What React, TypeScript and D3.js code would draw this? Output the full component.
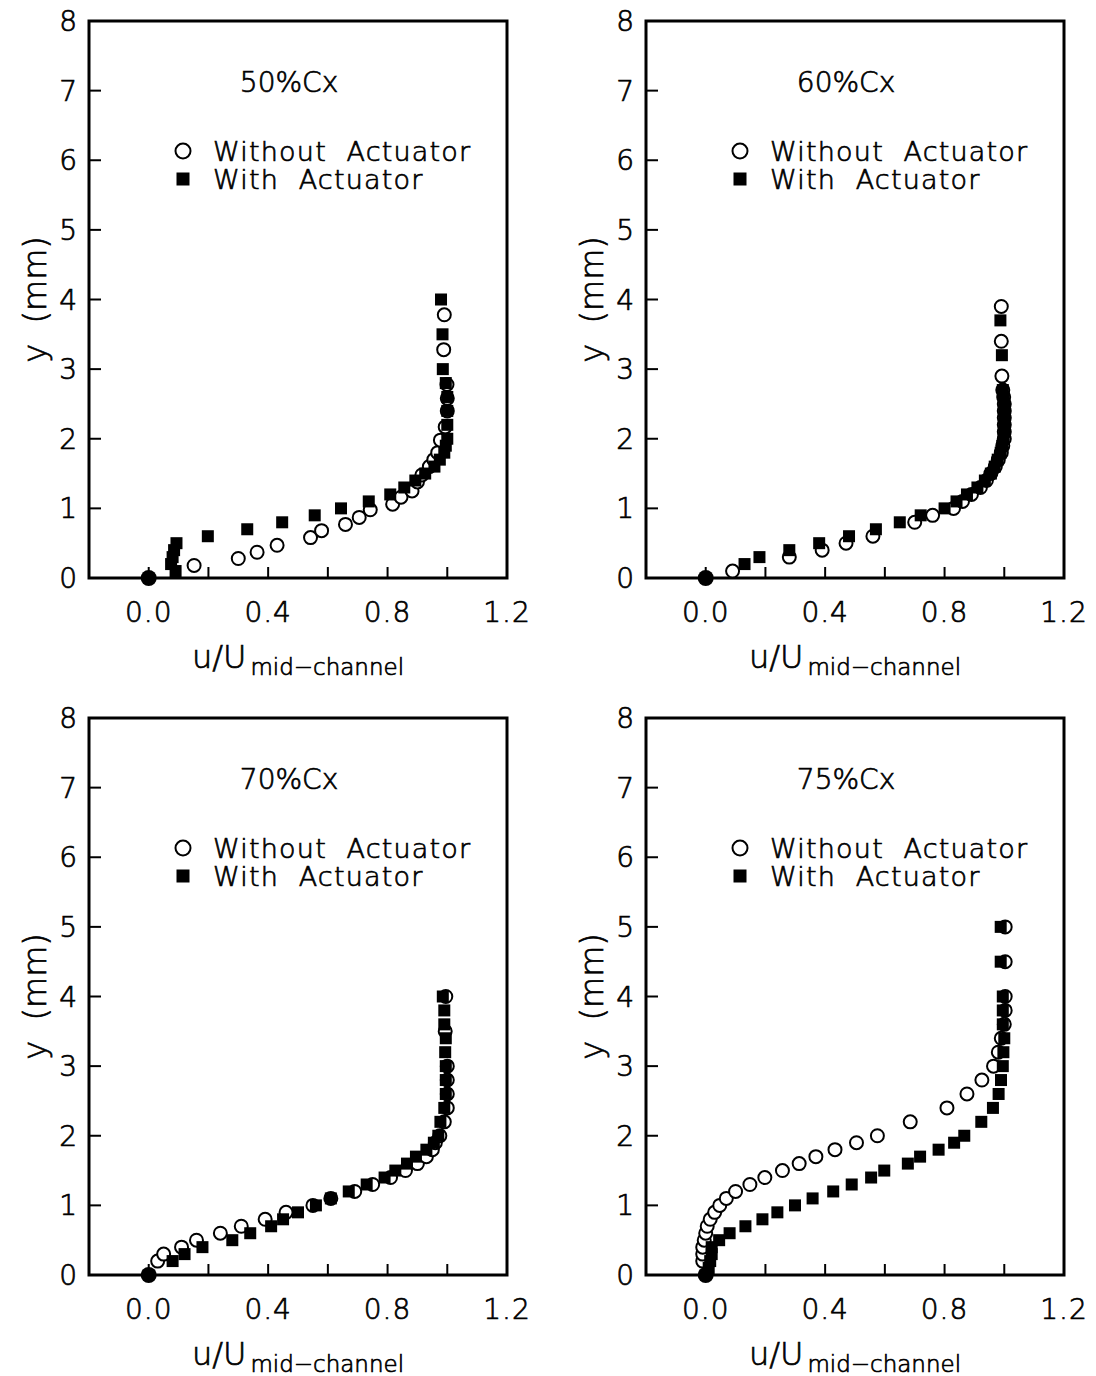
import React from "react";
import * as d3 from "d3";

// ---------- data ----------
const panelTitles = ["50%Cx", "60%Cx", "70%Cx", "75%Cx"];
const legendLabels = ["Without  Actuator", "With  Actuator"];
const xTickValues = [0, 0.2, 0.4, 0.6, 0.8, 1.0, 1.2];
const xTickLabels = ["0.0", "", "0.4", "", "0.8", "", "1.2"];
const yTickValues = [0, 1, 2, 3, 4, 5, 6, 7, 8];
const wallPoint: [number, number][] = [[0, 0]];

// [u/U, y(mm)]
const p50Without: [number, number][] = [
  [0.152, 0.18], [0.30, 0.28], [0.363, 0.37], [0.43, 0.47], [0.542, 0.58], [0.579, 0.68],
  [0.659, 0.77], [0.705, 0.87], [0.742, 0.98], [0.817, 1.06], [0.845, 1.16], [0.882, 1.25],
  [0.90, 1.38], [0.915, 1.48], [0.94, 1.6], [0.955, 1.7], [0.968, 1.8], [0.977, 1.98],
  [0.993, 2.17], [1.0, 2.4], [1.0, 2.58], [0.999, 2.78], [0.988, 3.28], [0.99, 3.78],
];
const p50With: [number, number][] = [
  [0.09, 0.1], [0.075, 0.2], [0.08, 0.3], [0.085, 0.4], [0.093, 0.5], [0.198, 0.6],
  [0.33, 0.7], [0.447, 0.8], [0.556, 0.9], [0.644, 1.0], [0.737, 1.1], [0.809, 1.2],
  [0.856, 1.3], [0.893, 1.4], [0.926, 1.5], [0.957, 1.6], [0.975, 1.7], [0.99, 1.8],
  [0.995, 1.9], [1.0, 2.0], [1.0, 2.2], [1.0, 2.4], [1.0, 2.6], [0.995, 2.8],
  [0.985, 3.0], [0.984, 3.5], [0.979, 4.0],
];
const p60Without: [number, number][] = [
  [0.09, 0.1], [0.28, 0.3], [0.39, 0.4], [0.47, 0.5], [0.56, 0.6], [0.70, 0.8], [0.76, 0.9],
  [0.83, 1.0], [0.86, 1.1], [0.89, 1.2], [0.92, 1.3], [0.94, 1.4], [0.955, 1.5], [0.97, 1.6],
  [0.98, 1.7], [0.99, 1.8], [0.995, 1.9], [1.0, 2.0], [1.0, 2.1], [1.0, 2.2], [1.0, 2.3],
  [1.0, 2.4], [1.0, 2.5], [0.998, 2.6], [0.995, 2.7], [0.992, 2.9], [0.99, 3.4], [0.99, 3.9],
];
const p60With: [number, number][] = [
  [0.13, 0.2], [0.18, 0.3], [0.28, 0.4], [0.38, 0.5], [0.48, 0.6], [0.57, 0.7], [0.65, 0.8],
  [0.72, 0.9], [0.80, 1.0], [0.84, 1.1], [0.875, 1.2], [0.91, 1.3], [0.935, 1.4], [0.955, 1.5],
  [0.968, 1.6], [0.978, 1.7], [0.988, 1.8], [0.993, 1.9], [0.998, 2.0], [1.0, 2.1], [1.0, 2.2],
  [1.0, 2.3], [1.0, 2.4], [1.0, 2.5], [0.998, 2.6], [0.995, 2.7], [0.992, 3.2], [0.987, 3.7],
];
const p70Without: [number, number][] = [
  [0.03, 0.2], [0.05, 0.3], [0.11, 0.4], [0.16, 0.5], [0.24, 0.6], [0.31, 0.7], [0.39, 0.8],
  [0.46, 0.9], [0.55, 1.0], [0.61, 1.1], [0.69, 1.2], [0.75, 1.3], [0.81, 1.4], [0.86, 1.5],
  [0.90, 1.6], [0.93, 1.7], [0.95, 1.8], [0.96, 1.9], [0.975, 2.0], [0.99, 2.2], [1.0, 2.4],
  [1.0, 2.6], [1.0, 2.8], [1.0, 3.0], [0.993, 3.5], [0.995, 4.0],
];
const p70With: [number, number][] = [
  [0.08, 0.2], [0.12, 0.3], [0.18, 0.4], [0.28, 0.5], [0.34, 0.6], [0.41, 0.7], [0.45, 0.8],
  [0.50, 0.9], [0.56, 1.0], [0.61, 1.1], [0.67, 1.2], [0.73, 1.3], [0.79, 1.4], [0.826, 1.5],
  [0.865, 1.6], [0.895, 1.7], [0.93, 1.8], [0.955, 1.9], [0.97, 2.0], [0.977, 2.2], [0.99, 2.4],
  [0.995, 2.6], [0.995, 2.8], [0.995, 3.0], [0.993, 3.2], [0.995, 3.4], [0.99, 3.6],
  [0.99, 3.8], [0.985, 4.0],
];
const p75Without: [number, number][] = [
  [-0.01, 0.2], [-0.01, 0.3], [-0.01, 0.4], [-0.005, 0.5], [0.0, 0.6], [0.005, 0.7],
  [0.015, 0.8], [0.03, 0.9], [0.047, 1.0], [0.069, 1.1], [0.1, 1.2], [0.148, 1.3],
  [0.198, 1.4], [0.257, 1.5], [0.313, 1.6], [0.369, 1.7], [0.433, 1.8], [0.505, 1.9],
  [0.575, 2.0], [0.685, 2.2], [0.808, 2.4], [0.875, 2.6], [0.925, 2.8], [0.964, 3.0],
  [0.98, 3.2], [0.99, 3.4], [1.0, 3.6], [1.003, 3.8], [1.003, 4.0], [1.003, 4.5], [1.003, 5.0],
];
const p75With: [number, number][] = [
  [0.01, 0.1], [0.015, 0.2], [0.02, 0.3], [0.02, 0.4], [0.045, 0.5], [0.08, 0.6], [0.133, 0.7],
  [0.19, 0.8], [0.24, 0.9], [0.299, 1.0], [0.358, 1.1], [0.427, 1.2], [0.489, 1.3],
  [0.554, 1.4], [0.598, 1.5], [0.677, 1.6], [0.718, 1.7], [0.78, 1.8], [0.832, 1.9],
  [0.866, 2.0], [0.923, 2.2], [0.962, 2.4], [0.981, 2.6], [0.989, 2.8], [0.995, 3.0],
  [0.997, 3.2], [1.0, 3.4], [0.995, 3.6], [0.995, 3.8], [0.995, 4.0], [0.988, 4.5], [0.988, 5.0],
];

const panelsWithout = [p50Without, p60Without, p70Without, p75Without];
const panelsWith = [p50With, p60With, p70With, p75With];

// ---------- layout ----------
const W = 1096;
const H = 1376;
const panelLeft = [89, 646, 89, 646];
const panelTop = [21, 21, 718, 718];
const PW = 418;
const PH = 557;
const FONT = "'DejaVu Sans', 'Liberation Sans', sans-serif";
const textStyle = {
  fontFamily: FONT,
  fontWeight: 300,
  stroke: "#000",
  strokeWidth: 0.7,
  fill: "#000",
} as const;

function Panel({ idx }: { idx: number }) {
  const left = panelLeft[idx];
  const top = panelTop[idx];
  const x = d3.scaleLinear().domain([-0.2, 1.2]).range([left, left + PW]);
  const y = d3.scaleLinear().domain([0, 8]).range([top + PH, top]);
  const R = 6.5;
  const S = 12;
  const legX = left + 94;
  const legY1 = top + 130;
  const legY2 = top + 158;
  return (
    <g>
      {/* ticks */}
      {xTickValues.map((v, i) => (
        <line key={"xt" + i} x1={x(v)} x2={x(v)} y1={y(0)} y2={y(0) - 11} stroke="#000" strokeWidth={2} />
      ))}
      {yTickValues.map((v, i) => (
        <line key={"yt" + i} x1={x(-0.2)} x2={x(-0.2) + 12} y1={y(v)} y2={y(v)} stroke="#000" strokeWidth={2} />
      ))}
      {/* frame */}
      <rect x={left} y={top} width={PW} height={PH} fill="none" stroke="#000" strokeWidth={3} />
      {/* tick labels */}
      {xTickValues.map((v, i) =>
        xTickLabels[i] ? (
          <text key={"xl" + i} x={x(v)} y={y(0) + 44} textAnchor="middle" fontSize={28} {...textStyle} letterSpacing={1}>
            {xTickLabels[i]}
          </text>
        ) : null
      )}
      {yTickValues.map((v, i) => (
        <text key={"yl" + i} x={left - 12} y={y(v)} dy="0.36em" textAnchor="end" fontSize={28} {...textStyle}>
          {String(v)}
        </text>
      ))}
      {/* axis titles */}
      <text x={left + PW / 2} y={top + PH + 90} textAnchor="middle" fontSize={32} {...textStyle}>
        <tspan>u/U</tspan>
        <tspan fontSize={23} dy={7} dx={4}>mid−channel</tspan>
      </text>
      <text
        transform={`translate(${left - 43},${top + PH / 2}) rotate(-90)`}
        textAnchor="middle"
        fontSize={32}
        {...textStyle}
        style={{ whiteSpace: "pre" }}
      >
        {"y  (mm)"}
      </text>
      {/* title */}
      <text x={x(0.47)} y={top + 71} textAnchor="middle" fontSize={28} {...textStyle}>
        {panelTitles[idx]}
      </text>
      {/* legend */}
      <circle cx={legX} cy={legY1} r={7.5} fill="#fff" stroke="#000" strokeWidth={2} />
      <rect x={legX - 6.5} y={legY2 - 6.5} width={13} height={13} fill="#000" />
      <text x={legX + 30} y={legY1} dy="0.36em" fontSize={27} letterSpacing={1.2} {...textStyle} style={{ whiteSpace: "pre" }}>
        {legendLabels[0]}
      </text>
      <text x={legX + 30} y={legY2} dy="0.36em" fontSize={27} letterSpacing={1.2} {...textStyle} style={{ whiteSpace: "pre" }}>
        {legendLabels[1]}
      </text>
      {/* data */}
      {panelsWithout[idx].map((d, i) => (
        <circle key={"c" + i} cx={x(d[0])} cy={y(d[1])} r={R} fill="#fff" stroke="#000" strokeWidth={2} />
      ))}
      {panelsWith[idx].map((d, i) => (
        <rect key={"s" + i} x={x(d[0]) - S / 2} y={y(d[1]) - S / 2} width={S} height={S} fill="#000" />
      ))}
      {wallPoint.map((d, i) => (
        <circle key={"w" + i} cx={x(d[0])} cy={y(d[1])} r={8} fill="#000" />
      ))}
    </g>
  );
}

export default function App() {
  return (
    <svg
      width={W}
      height={H}
      viewBox={`0 0 ${W} ${H}`}
      style={{ position: "absolute", left: 0, top: 0, background: "#fff" }}
    >
      <rect x={0} y={0} width={W} height={H} fill="#fff" />
      {[0, 1, 2, 3].map((i) => (
        <Panel key={i} idx={i} />
      ))}
    </svg>
  );
}
